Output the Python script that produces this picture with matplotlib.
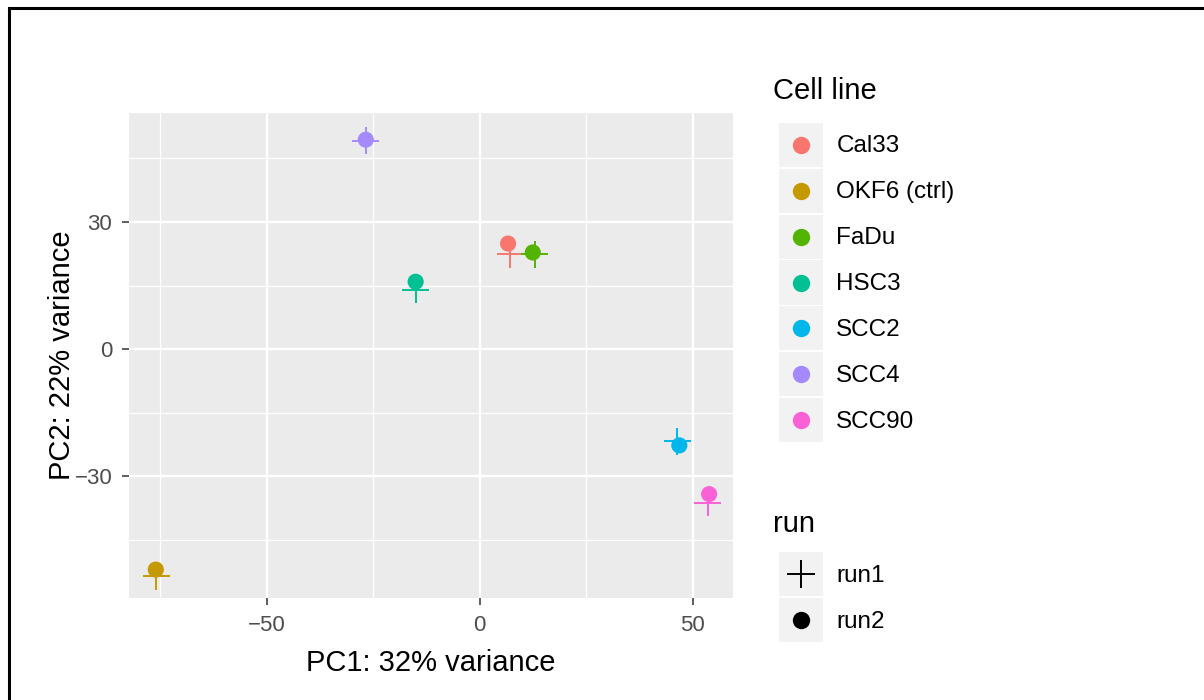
import matplotlib
matplotlib.use("Agg")
import matplotlib.pyplot as plt
from matplotlib.lines import Line2D
from matplotlib.patches import Rectangle
from matplotlib.legend_handler import HandlerBase

plt.rcParams['font.family'] = ['Liberation Sans', 'DejaVu Sans']

# PCA coordinates
cell_lines = ['Cal33', 'OKF6 (ctrl)', 'FaDu', 'HSC3', 'SCC2', 'SCC4', 'SCC90']
colors = ['#F8766D', '#C49A00', '#53B400', '#00C094', '#00B6EB', '#A58AFF', '#FB61D7']
run1_pc1 = [7.2, -75.9, 13.0, -15.0, 46.4, -26.7, 53.6]
run1_pc2 = [22.4, -53.6, 22.4, 14.0, -21.7, 49.2, -36.2]
run2_pc1 = [6.7, -76.0, 12.5, -15.0, 46.9, -26.7, 53.9]
run2_pc2 = [24.9, -52.0, 22.8, 15.9, -22.7, 49.4, -34.2]
runs = ['run1', 'run2']

x_ticks = [-50, 0, 50]
y_ticks = [-30, 0, 30]
x_minor = [-75, -25, 25]
y_minor = [-45, -15, 15, 45]

KEY_BG = '#F2F2F2'


class KeyHandler(HandlerBase):
    """grey square key (right-aligned in the handle box) with the marker centred in it"""

    def create_artists(self, legend, orig_handle, xdescent, ydescent,
                       width, height, fontsize, trans):
        side = height
        x0 = -xdescent + width - side
        y0 = -ydescent
        bg = Rectangle((x0, y0), side, side,
                       facecolor=KEY_BG, edgecolor='none', transform=trans)
        mk = Line2D([x0 + side / 2], [y0 + side / 2],
                    marker=orig_handle.get_marker(), color=orig_handle.get_color(),
                    linestyle='none', markersize=orig_handle.get_markersize(),
                    markeredgewidth=orig_handle.get_markeredgewidth(), transform=trans)
        return [bg, mk]


fig = plt.figure(figsize=(12.04, 7.0), dpi=100)
ax = fig.add_axes([0.1071, 0.1457, 0.5017, 0.6929])

ax.set_facecolor('#EBEBEB')
for s in ax.spines.values():
    s.set_visible(False)

# punti: cerchio = run2, croce = run1
ax.scatter(run2_pc1, run2_pc2, c=colors, marker='o', s=135, linewidths=0, zorder=3)
ax.scatter(run1_pc1, run1_pc2, c=colors, marker='+', s=380, linewidths=1.4, zorder=4)

ax.set_xlim(-82.3, 59.5)
ax.set_ylim(-58.7, 55.7)
ax.set_xticks(x_ticks)
ax.set_yticks(y_ticks)
ax.set_xticks(x_minor, minor=True)
ax.set_yticks(y_minor, minor=True)
ax.grid(which='major', color='white', linewidth=1.7)
ax.grid(which='minor', color='white', linewidth=0.9)
ax.set_axisbelow(True)
ax.tick_params(which='major', length=5, width=1.1, color='#333333',
               labelsize=16, labelcolor='#4D4D4D')
ax.tick_params(axis='x', which='major', pad=7.5)
ax.tick_params(axis='y', which='major', pad=7)
ax.tick_params(which='minor', length=0)

ax.set_xlabel('PC1: 32% variance', fontsize=21, labelpad=9)
ax.set_ylabel('PC2: 22% variance', fontsize=21, labelpad=-1)

# legende
cell_handles = [Line2D([], [], marker='o', color=c, linestyle='none',
                       markersize=12.5, markeredgewidth=0) for c in colors]
run_handles = [Line2D([], [], marker='+', color='black', linestyle='none',
                      markersize=20, markeredgewidth=1.4),
               Line2D([], [], marker='o', color='black', linestyle='none',
                      markersize=12.5, markeredgewidth=0)]

common = dict(frameon=False, fontsize=17.5, title_fontsize=21, handlelength=2.058, handleheight=2.41,
              labelspacing=0.08, handletextpad=0.55, borderpad=0, borderaxespad=0,
              alignment='left', loc='upper left', handler_map={Line2D: KeyHandler()})

leg1 = fig.legend(cell_handles, cell_lines, title='Cell line', bbox_to_anchor=(0.6420, 0.8907), **common)
leg2 = fig.legend(run_handles, runs, title='run', bbox_to_anchor=(0.6420, 0.2709), **common)
leg1._legend_box.sep = 13
leg2._legend_box.sep = 10

# cornice nera in alto e a sinistra
fig.add_artist(Rectangle((0.0075, -0.2), 1.2, 1.1886, transform=fig.transFigure,
                         fill=False, edgecolor='black', linewidth=2.2))

fig.savefig('out.png', dpi=100)
